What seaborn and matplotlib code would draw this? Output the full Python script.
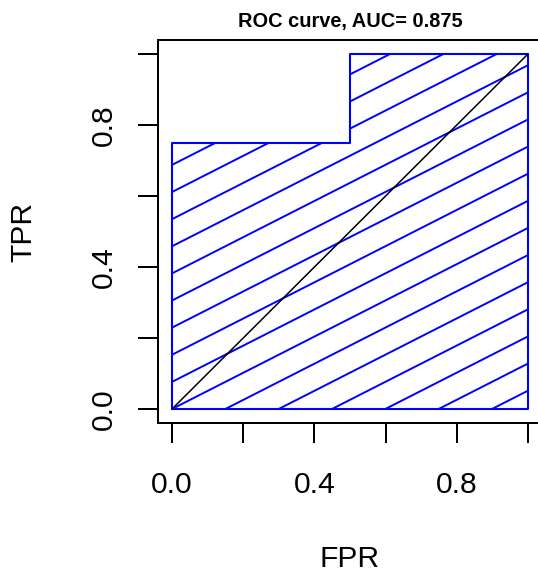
import numpy as np
import pandas as pd
import matplotlib
matplotlib.use("Agg")
import matplotlib.pyplot as plt
from matplotlib.patches import Polygon
import seaborn as sns

# ROC data
fpr = [0.0, 0.0, 0.5, 0.5, 1.0, 1.0]
tpr = [0.0, 0.75, 0.75, 1.0, 1.0, 0.0]
diag_x = [0.0, 1.0]
diag_y = [0.0, 1.0]
auc = 0.875
ticks = [0.0, 0.2, 0.4, 0.6, 0.8, 1.0]
tick_labels = ["0.0", "", "0.4", "", "0.8", ""]

sns.set_style("white")
plt.rcParams['font.family'] = ['Liberation Sans', 'DejaVu Sans']
plt.rcParams['text.color'] = 'black'
plt.rcParams['xtick.bottom'] = True
plt.rcParams['ytick.left'] = True

W, H = 538, 573
fig = plt.figure(figsize=(W / 100, H / 100), dpi=100)
ax = fig.add_axes([157.8 / W, 1 - 423.2 / H, 384.4 / W, 383.4 / H])
ax.set_xlim(-0.04, 1.04)
ax.set_ylim(-0.04, 1.04)

# hatched polygon (area under curve)
poly = Polygon(list(zip(fpr, tpr)), closed=True, facecolor="none",
               edgecolor="none")
ax.add_patch(poly)
slope = 0.51
step = 0.0764
xs = np.array([-0.2, 1.2])
for k in range(-25, 26):
    ln, = ax.plot(xs, slope * xs + k * step, color="#0000FF", lw=1.4)
    ln.set_clip_path(poly)

outline = pd.DataFrame({"FPR": fpr + [fpr[0]], "TPR": tpr + [tpr[0]]})
sns.lineplot(data=outline, x="FPR", y="TPR", sort=False, estimator=None,
             color="#0000FF", lw=1.5, ax=ax)
sns.lineplot(x=diag_x, y=diag_y, color="black", lw=1.1, ax=ax)

for name, s in ax.spines.items():
    s.set_visible(name != "right")
    s.set_color("black")
    s.set_linewidth(1.44)

ax.set_xticks(ticks)
ax.set_xticklabels(tick_labels, fontsize=21.6)
ax.set_yticks(ticks)
ax.set_yticklabels(tick_labels, fontsize=21.6, rotation=90, va="center")
ax.tick_params(axis="both", direction="out", length=14.4, width=1.44,
               color="black", labelcolor="black", bottom=True, left=True)
ax.tick_params(axis="x", pad=20.0)
ax.tick_params(axis="y", pad=14.0)
ax.set_xlabel("")
ax.set_ylabel("")

fig.text(350 / W, 1 - 21 / H, f"ROC curve, AUC= {auc}", ha="center",
         va="center", fontsize=14.4, fontweight="bold", color="black")
fig.text(350 / W, 1 - 559 / H, "FPR", ha="center", va="center",
         fontsize=21.6, color="black")
fig.text(23 / W, 1 - 231.5 / H, "TPR", ha="center", va="center",
         fontsize=21.6, rotation=90, color="black")

fig.savefig("out.png", dpi=100)
